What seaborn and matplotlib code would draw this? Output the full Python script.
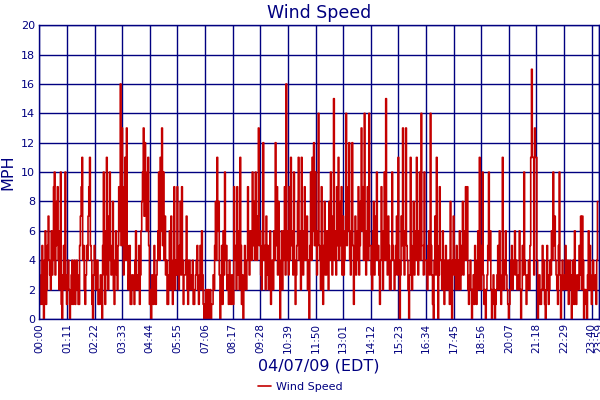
import numpy as np
import pandas as pd
import matplotlib
matplotlib.use("Agg")
import matplotlib.pyplot as plt
import seaborn as sns

# Wind speed (MPH), 36 readings per 71-minute tick interval
speed_rows = [
    [4, 2, 1, 3, 5, 1, 0, 4, 6, 1, 2, 5, 7, 4, 3, 2, 6, 3, 4, 9, 10, 3, 5, 8, 9, 4, 2, 6, 10, 1, 0, 3, 5, 2, 10, 3],
    [1, 3, 4, 2, 0, 1, 3, 4, 1, 2, 4, 1, 2, 4, 3, 1, 1, 5, 7, 9, 11, 4, 5, 2, 1, 3, 5, 4, 7, 9, 11, 5, 4, 1, 0, 3],
    [5, 3, 2, 4, 4, 1, 1, 2, 3, 1, 0, 5, 10, 3, 1, 6, 11, 3, 2, 7, 10, 4, 3, 5, 8, 2, 1, 4, 6, 3, 2, 5, 9, 6, 16, 5],
    [13, 6, 3, 9, 11, 4, 13, 5, 2, 3, 5, 1, 1, 3, 3, 2, 1, 4, 6, 2, 2, 3, 5, 1, 3, 6, 8, 10, 13, 7, 12, 8, 6, 10, 11, 5],
    [1, 2, 0, 3, 3, 1, 5, 2, 1, 3, 4, 6, 10, 4, 11, 6, 13, 5, 10, 4, 7, 3, 4, 1, 1, 3, 6, 2, 7, 3, 1, 4, 9, 2, 4, 3],
    [9, 4, 2, 5, 8, 3, 9, 4, 1, 3, 3, 4, 7, 2, 1, 4, 4, 2, 2, 3, 4, 1, 1, 2, 3, 4, 5, 2, 1, 3, 5, 2, 6, 3, 1, 0],
    [1, 2, 0, 1, 2, 0, 1, 2, 0, 1, 1, 3, 2, 5, 8, 4, 11, 6, 8, 3, 0, 2, 5, 1, 6, 3, 10, 4, 5, 2, 3, 1, 4, 2, 1, 3],
    [3, 1, 9, 4, 5, 2, 9, 3, 6, 2, 11, 5, 1, 3, 0, 2, 5, 3, 2, 4, 9, 5, 3, 6, 6, 4, 10, 5, 8, 4, 10, 6, 4, 7, 13, 5],
    [6, 3, 2, 5, 12, 4, 5, 2, 7, 3, 5, 2, 3, 6, 1, 3, 4, 2, 6, 4, 12, 5, 9, 3, 8, 4, 0, 3, 6, 2, 4, 6, 9, 3, 16, 4],
    [6, 3, 9, 4, 11, 5, 6, 3, 10, 4, 1, 3, 5, 8, 11, 4, 6, 2, 11, 5, 3, 6, 9, 4, 5, 7, 2, 4, 0, 5, 10, 4, 11, 6, 12, 5],
    [10, 5, 3, 6, 14, 5, 4, 2, 9, 4, 1, 5, 8, 3, 3, 6, 6, 2, 8, 4, 10, 5, 3, 7, 15, 4, 6, 3, 9, 5, 11, 4, 5, 8, 9, 3],
    [7, 3, 4, 6, 14, 5, 6, 9, 12, 4, 3, 6, 12, 5, 1, 4, 7, 3, 4, 6, 9, 3, 5, 8, 13, 6, 9, 4, 14, 5, 3, 6, 9, 4, 14, 5],
    [5, 3, 2, 6, 8, 3, 4, 7, 10, 4, 5, 3, 1, 4, 9, 5, 2, 6, 10, 4, 15, 5, 3, 7, 5, 2, 2, 4, 10, 5, 4, 2, 3, 5, 7, 3],
    [11, 4, 0, 3, 7, 5, 13, 4, 3, 6, 13, 5, 4, 2, 0, 3, 11, 5, 2, 4, 8, 3, 6, 4, 11, 5, 3, 6, 10, 4, 14, 5, 5, 3, 10, 4],
    [4, 3, 2, 5, 6, 3, 14, 5, 3, 1, 0, 4, 7, 3, 11, 5, 0, 3, 9, 4, 4, 2, 6, 3, 1, 4, 5, 2, 2, 4, 4, 1, 8, 3, 0, 4],
    [7, 3, 4, 2, 5, 3, 2, 4, 6, 2, 3, 5, 8, 3, 4, 6, 9, 4, 9, 2, 1, 3, 4, 2, 0, 2, 3, 1, 5, 2, 1, 4, 6, 2, 11, 4],
    [2, 5, 10, 3, 1, 2, 0, 2, 3, 5, 10, 4, 6, 2, 0, 1, 3, 2, 0, 1, 2, 3, 5, 2, 6, 3, 1, 2, 11, 3, 2, 4, 6, 3, 2, 1],
    [0, 1, 2, 4, 5, 2, 3, 4, 6, 3, 4, 2, 2, 3, 6, 2, 0, 2, 5, 3, 10, 4, 3, 1, 2, 3, 4, 2, 5, 11, 17, 11, 11, 3, 13, 11],
    [11, 4, 0, 2, 3, 1, 1, 2, 5, 2, 4, 1, 0, 2, 5, 3, 1, 2, 4, 3, 6, 4, 10, 5, 7, 4, 3, 2, 1, 5, 10, 3, 0, 2, 4, 2],
    [2, 3, 5, 2, 3, 4, 1, 2, 4, 3, 0, 2, 4, 1, 6, 3, 1, 2, 3, 2, 5, 3, 7, 2, 7, 4, 0, 2, 2, 1, 0, 3, 6, 2, 5, 2],
    [1, 3, 4, 2, 2, 3, 1, 4, 8],
]
tick_minutes = [0, 71, 142, 213, 284, 355, 426, 497, 568, 639, 710, 781, 852,
                923, 994, 1065, 1136, 1207, 1278, 1349, 1420, 1439]
tick_labels = ["00:00", "01:11", "02:22", "03:33", "04:44", "05:55", "07:06",
               "08:17", "09:28", "10:39", "11:50", "13:01", "14:12", "15:23",
               "16:34", "17:45", "18:56", "20:07", "21:18", "22:29", "23:40",
               "23:59"]
y_ticks = [0, 2, 4, 6, 8, 10, 12, 14, 16, 18, 20]

speed = [v for row in speed_rows for v in row]
minutes = np.arange(len(speed)) * 71.0 / 36.0
df = pd.DataFrame({"minute": minutes, "speed": speed})

NAVY = "#000080"
RED = "#C40000"

sns.set_theme(style="white")
plt.rcParams["font.family"] = ["DejaVu Sans"]

fig = plt.figure(figsize=(6, 4), dpi=100)
ax = fig.add_axes([0.0655, 0.2025, 0.9330, 0.7345])

sns.lineplot(data=df, x="minute", y="speed", ax=ax, color=RED,
             linewidth=1.2, label="Wind Speed", legend=False,
             drawstyle="steps-mid")

ax.set_xlim(0, 1439)
ax.set_ylim(0, 20)
ax.set_xticks(tick_minutes)
ax.set_xticklabels(tick_labels, rotation=90, fontsize=7.5, color=NAVY)
ax.set_yticks(y_ticks)
ax.set_yticklabels([str(t) for t in y_ticks], fontsize=8, color=NAVY)
ax.tick_params(axis="both", length=0, pad=3)
ax.grid(True, color=NAVY, linewidth=1.0)
ax.set_axisbelow(True)
for s in ax.spines.values():
    s.set_color(NAVY)
    s.set_linewidth(1.0)

ax.set_title("Wind Speed", color=NAVY, fontsize=12.5, pad=5)
ax.set_xlabel("04/07/09 (EDT)", color=NAVY, fontsize=11.5, labelpad=4)
ax.set_ylabel("MPH", color=NAVY, fontsize=11.5, labelpad=4)

handles, labels = ax.get_legend_handles_labels()
leg = fig.legend(handles, labels, loc="lower center", bbox_to_anchor=(0.5, -0.005),
                 frameon=False, fontsize=8, handlelength=1.2, handletextpad=0.4)
for t in leg.get_texts():
    t.set_color(NAVY)

fig.savefig("out.png", dpi=100)
